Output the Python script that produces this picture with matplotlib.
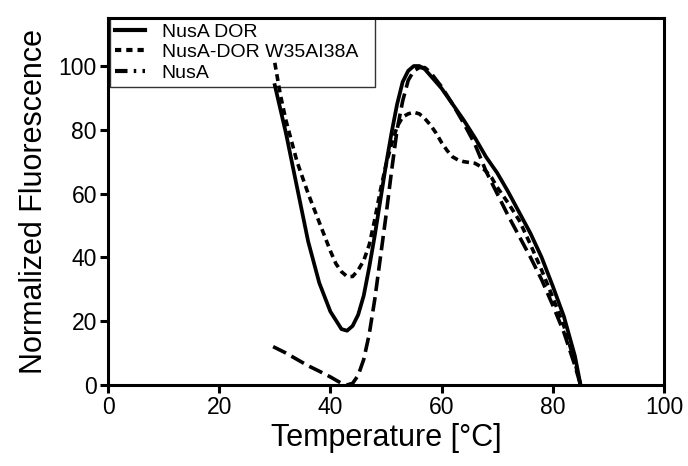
import matplotlib.pyplot as plt
from matplotlib.lines import Line2D
import numpy as np

plt.rcParams['font.family'] = ['Liberation Sans', 'DejaVu Sans']

# NusA DOR (solid)
temp_dor = [30, 32, 34, 36, 38, 40, 42, 43, 44, 45, 46, 47, 48, 49, 50, 51, 52, 53, 54, 55, 56, 57, 58,
            60, 62, 64, 66, 68, 70, 72, 74, 76, 78, 80, 82, 84, 85]
fl_dor = [94, 79, 62, 45, 32, 23, 17.5, 17, 18.5, 22, 28, 37, 47, 58, 69, 79, 88, 95, 98.5, 100, 100, 99, 97,
          93, 88, 83, 77.5, 71.5, 66.5, 60.5, 54, 47.5, 40, 31, 21.5, 9, 0]

# NusA-DOR W35AI38A (short dashes)
temp_mut = [30, 31, 32, 34, 36, 38, 40, 41, 42, 43, 44, 45, 46, 47, 48, 49, 50, 51, 52, 53, 54, 55, 56, 57,
            58, 59, 60, 61, 62, 63, 64, 66, 67, 68, 69, 70, 72, 74, 76, 78, 80, 82, 84, 85]
fl_mut = [101, 91, 83, 70, 60, 51, 42, 38, 35.5, 34, 34, 36, 39, 44, 52, 61, 69, 75.5, 81, 84, 85, 85.5, 85, 83.5,
          81.5, 79, 76, 73.5, 71.5, 70.5, 70, 69.5, 68.5, 67, 65, 62, 57, 51.5, 44, 36, 27.5, 18.5, 7, 0]

# NusA (long dashes)
temp_nusa = [29.7, 32, 34, 36, 38, 40, 41, 42, 43, 44, 45, 46, 47, 48, 49, 50, 51, 52, 53, 54, 55, 56, 57, 58,
             60, 62, 64, 66, 68, 70, 72, 74, 76, 78, 80, 82, 84, 85]
fl_nusa = [12, 10, 8, 6, 4.3, 2.5, 1.5, 0.5, 0, 0.5, 3, 8, 16, 27, 40, 53, 67, 80, 89, 95.5, 98.5, 99.5, 99.5, 98,
           93.5, 88, 82, 75.5, 67, 60, 53, 46.5, 40, 33, 25, 16.5, 6, 0]

labels = ['NusA DOR', 'NusA-DOR W35AI38A', 'NusA']

fig = plt.figure(figsize=(6.88, 4.66), dpi=100)
ax = fig.add_axes([0.157, 0.174, 0.808, 0.787])

ax.plot(temp_dor, fl_dor, color='black', lw=2.7, linestyle='-', zorder=3)
ax.plot(temp_mut, fl_mut, color='black', lw=2.6, linestyle=(0, (1.9, 1.3)), zorder=3)
ax.plot(temp_nusa, fl_nusa, color='black', lw=2.6, linestyle=(0, (4, 1.7)), zorder=3)

ax.set_xlim(0, 100)
ax.set_ylim(0, 115)
ax.set_xticks([0, 20, 40, 60, 80, 100])
ax.set_yticks([0, 20, 40, 60, 80, 100])
ax.tick_params(direction='out', length=6, width=2.2, labelsize=16.5, pad=2)
for s in ax.spines.values():
    s.set_linewidth(2.2)

ax.set_xlabel('Temperature [°C]', fontsize=22, labelpad=3)
ax.set_ylabel('Normalized Fluorescence', fontsize=22, labelpad=7)

# legend keys as in the original figure (NusA shown dash-dot)
handles = [Line2D([], [], color='black', lw=3, linestyle='-'),
           Line2D([], [], color='black', lw=3, linestyle=(0, (1.5, 1.2))),
           Line2D([], [], color='black', lw=3, linestyle=(0, (3, 1.5, 0.6, 1.5)))]
leg = ax.legend(handles, labels, loc='upper left', bbox_to_anchor=(0.004, 0.5, 0.477, 0.5), mode='expand',
                fontsize=14, frameon=True, fancybox=False, edgecolor='black',
                borderaxespad=0, handlelength=1.55, handletextpad=0.85,
                borderpad=0.25, labelspacing=0.15)
leg.get_frame().set_linewidth(1.0)
leg.set_zorder(2)

fig.savefig('out.png', dpi=100)
